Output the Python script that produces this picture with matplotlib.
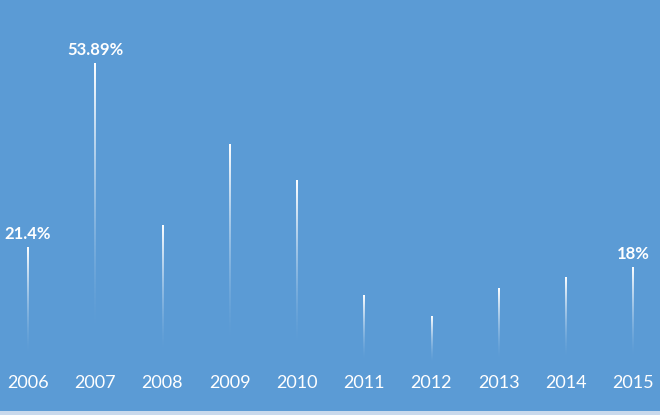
import numpy as np
import matplotlib
matplotlib.use("Agg")
import matplotlib.pyplot as plt
from matplotlib.patches import Rectangle

# data
years = ["2006", "2007", "2008", "2009", "2010", "2011", "2012", "2013", "2014", "2015"]
values = [21.4, 53.89, 25.4, 39.6, 33.2, 12.9, 9.2, 14.3, 16.1, 18.0]
shown_labels = {0: "21.4%", 1: "53.89%", 9: "18%"}

bg = "#5B9BD5"

fig = plt.figure(figsize=(6.6, 4.15), dpi=100, facecolor=bg)
ax = fig.add_axes([0, 0, 1, 1])
ax.set_facecolor(bg)

x = np.arange(len(years))
half_w = 0.012

# white bars with a fade toward the baseline
grad = np.clip(np.linspace(-0.12, 1, 256), 0, 1).reshape(-1, 1) ** 1.6
img = np.ones((256, 1, 4))
img[..., 3] = grad
for xi, v in zip(x, values):
    ax.imshow(img, extent=(xi - half_w, xi + half_w, 0, v), origin="lower",
              aspect="auto", interpolation="bilinear", zorder=2)

for i, lab in shown_labels.items():
    ax.annotate(lab, (x[i], values[i]), textcoords="offset points", xytext=(0, 4),
                ha="center", va="bottom", color="white", fontsize=12,
                fontweight="bold", family=["Lato", "DejaVu Sans"])

for xi, yr in zip(x, years):
    ax.text(xi, 0.077, yr, transform=ax.get_xaxis_transform(), ha="center",
            va="center", color="white", fontsize=13, family=["Lato", "DejaVu Sans"])

ax.set_xlim(-0.4167, 9.402)
ax.set_ylim(-8.12, 65.16)
ax.axis("off")

# thin light strip along the bottom edge
fig.patches.append(Rectangle((0, 0), 1, 4 / 415, transform=fig.transFigure,
                             facecolor="#C9D9EC", edgecolor="none"))

fig.savefig("out.png", dpi=100, facecolor=bg)
